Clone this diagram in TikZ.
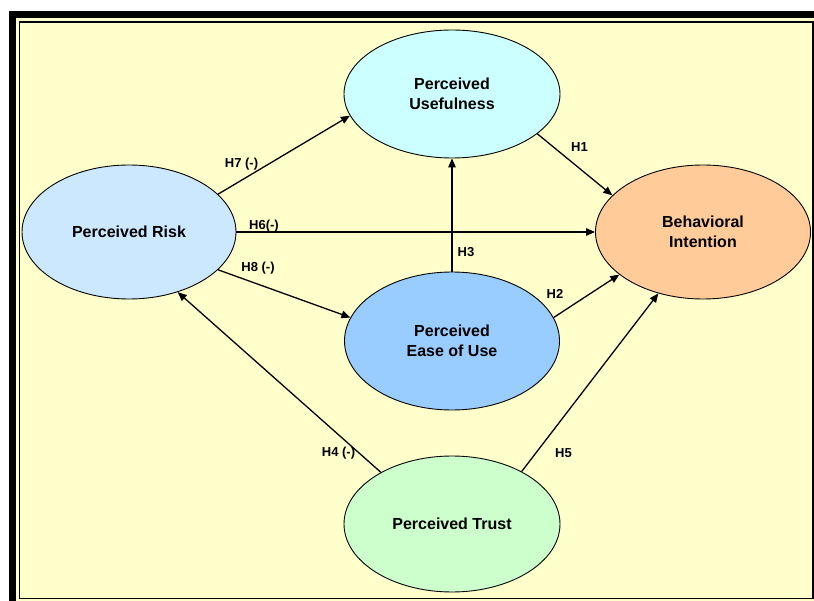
\documentclass[tikz,border=0pt]{standalone}
\usepackage{fontspec}
\setmainfont{Liberation Sans}
\usetikzlibrary{shapes.geometric,arrows.meta}
\definecolor{bgyellow}{HTML}{FFFFCC}
\definecolor{cUse}{HTML}{CCFFFF}
\definecolor{cRisk}{HTML}{CCE8FF}
\definecolor{cBI}{HTML}{FFCC99}
\definecolor{cEase}{HTML}{99CCFF}
\definecolor{cTrust}{HTML}{CCFFCC}
\tikzset{
  construct/.style={ellipse, draw=black, line width=0.9pt, inner sep=0pt,
    align=center, font=\fontsize{16}{20}\selectfont\bfseries},
  hyp/.style={line width=1.3pt, -{Triangle[length=9pt,width=7.5pt]}},
  hlabel/.style={font=\fontsize{13}{15}\selectfont\bfseries, inner sep=0pt}
}
\begin{document}
\begin{tikzpicture}[x=1pt,y=-1pt]
\useasboundingbox (0,0) rectangle (814,601);
% frame
\fill[black] (9,11) rectangle (814,601);
\fill[bgyellow] (15.5,18) rectangle (814,601);
\draw[black, line width=1.8pt, fill=bgyellow] (19.5,22) rectangle (813,598.5);
% constructs
\node[construct, fill=cUse, minimum width=216pt, minimum height=128pt] (use) at (452,94) {Perceived\\Usefulness};
\node[construct, fill=cRisk, minimum width=214pt, minimum height=134pt] (risk) at (129,232) {Perceived Risk};
\node[construct, fill=cBI, minimum width=215pt, minimum height=134pt] (bi) at (703,232) {Behavioral\\Intention};
\node[construct, fill=cEase, minimum width=215pt, minimum height=138pt] (ease) at (452,341) {Perceived\\Ease of Use};
\node[construct, fill=cTrust, minimum width=216pt, minimum height=136pt] (trust) at (452,524) {Perceived Trust};
% hypotheses
\draw[hyp] (risk.23) -- (use.192);
\draw[hyp] (risk.0) -- (bi.180);
\draw[hyp] (risk.337) -- (ease.167);
\draw[hyp] (ease.90) -- (use.270);
\draw[hyp] (use.335) -- (bi.158);
\draw[hyp] (ease.13) -- (bi.207);
\draw[hyp] (trust.144) -- (risk.309);
\draw[hyp] (trust.37) -- (bi.234);
% labels
\node[hlabel] (l7) at (241.5,164) {H7 (-)};
\node[hlabel] (l6) at (264,226) {H6(-)};
\node[hlabel] (l8) at (258,268) {H8 (-)};
\node[hlabel] (l3) at (466,252) {H3};
\node[hlabel] (l1) at (579.5,147) {H1};
\node[hlabel] (l2) at (555,294) {H2};
\node[hlabel] (l4) at (338.5,453) {H4 (-)};
\node[hlabel] (l5) at (563.5,453) {H5};
\end{tikzpicture}
\end{document}
